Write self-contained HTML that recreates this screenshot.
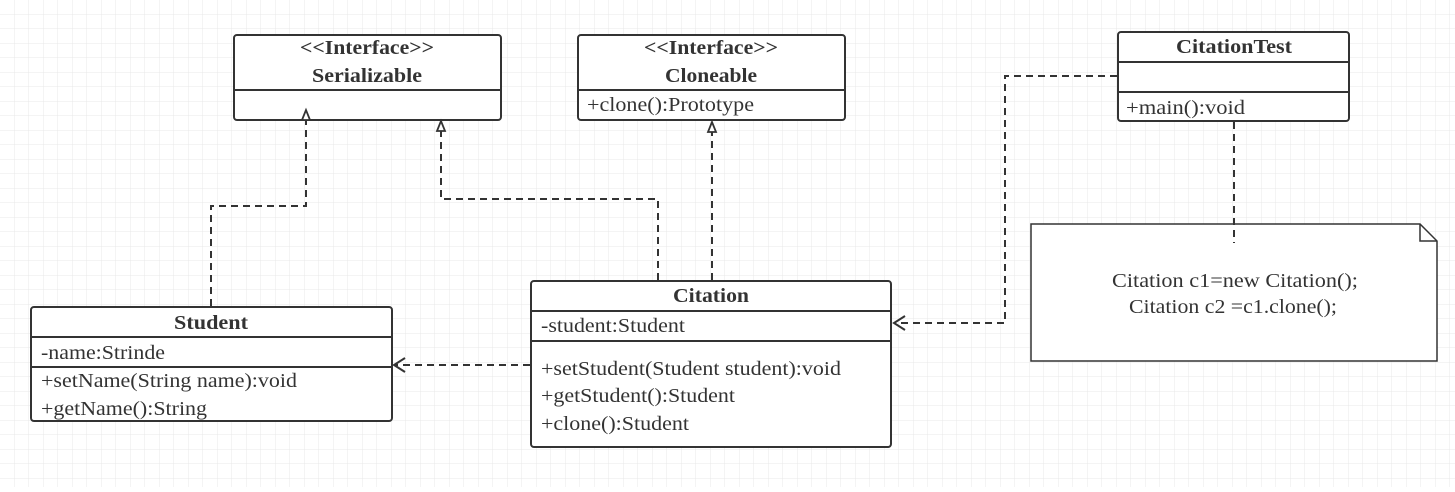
<!DOCTYPE html>
<html><head><style>
body{margin:0;background:#fff;}
text{font-family:"Liberation Serif","DejaVu Serif",serif;}
</style></head><body>
<svg width="1455" height="487" viewBox="0 0 1455 487" xmlns="http://www.w3.org/2000/svg">
<defs>
<pattern id="g" width="14.5" height="14.5" patternUnits="userSpaceOnUse">
<path d="M14.5 0V14.5H0" fill="none" stroke="#e9e9e9" stroke-width="1"/>
</pattern>
</defs>
<rect width="1455" height="487" fill="url(#g)"/>
<g fill="#fff" stroke="#333" stroke-width="2">
<rect x="234" y="35" width="267" height="85" rx="3"/>
<rect x="578" y="35" width="267" height="85" rx="3"/>
<rect x="1118" y="32" width="231" height="89" rx="3"/>
<rect x="31" y="307" width="361" height="114" rx="3"/>
<rect x="531" y="281" width="360" height="166" rx="3"/>
<path d="M1031 224H1420L1437 241V361H1031Z" fill="#fff" stroke-width="1.5"/>
<path d="M1420 224V241H1437" fill="none" stroke-width="1.5"/>
</g>
<g stroke="#333" stroke-width="2">
<line x1="234" y1="90" x2="501" y2="90"/>
<line x1="578" y1="90" x2="845" y2="90"/>
<line x1="1118" y1="62" x2="1349" y2="62"/>
<line x1="1118" y1="92" x2="1349" y2="92"/>
<line x1="31" y1="337" x2="392" y2="337"/>
<line x1="31" y1="367" x2="392" y2="367"/>
<line x1="531" y1="311" x2="891" y2="311"/>
<line x1="531" y1="341" x2="891" y2="341"/>
</g>
<g fill="none" stroke="#333" stroke-width="2" stroke-dasharray="7,5">
<path d="M211 306V206H306V118"/>
<path d="M658 280V199H441V120"/>
<path d="M712 280V122"/>
<path d="M1117 76H1005V323H895"/>
<path d="M1234 122V243"/>
<path d="M530 365H395"/>
</g>
<g fill="#fff" stroke="#333" stroke-width="1.8">
<path d="M306 110L302 120H310Z"/>
<path d="M441 121L437 131H445Z"/>
<path d="M712 122L708 132H716Z"/>
</g>
<g fill="none" stroke="#333" stroke-width="2">
<path d="M905 316L894 323L905 330"/>
<path d="M405 358L394 365L405 372"/>
</g>
<g fill="#333" font-size="20" font-family="'Liberation Serif', serif">
<g font-weight="bold" text-anchor="middle">
<text x="367" y="54" textLength="134" lengthAdjust="spacingAndGlyphs">&lt;&lt;Interface&gt;&gt;</text>
<text x="367" y="82" textLength="110" lengthAdjust="spacingAndGlyphs">Serializable</text>
<text x="711" y="54" textLength="134" lengthAdjust="spacingAndGlyphs">&lt;&lt;Interface&gt;&gt;</text>
<text x="711" y="82" textLength="92" lengthAdjust="spacingAndGlyphs">Cloneable</text>
<text x="1234" y="53" textLength="116" lengthAdjust="spacingAndGlyphs">CitationTest</text>
<text x="211" y="329" textLength="74" lengthAdjust="spacingAndGlyphs">Student</text>
<text x="711" y="302" textLength="76" lengthAdjust="spacingAndGlyphs">Citation</text>
</g>
<text x="587" y="111" textLength="167" lengthAdjust="spacingAndGlyphs">+clone():Prototype</text>
<text x="1126" y="114" textLength="119" lengthAdjust="spacingAndGlyphs">+main():void</text>
<text x="41" y="359" textLength="124" lengthAdjust="spacingAndGlyphs">-name:Strinde</text>
<text x="41" y="387" textLength="256" lengthAdjust="spacingAndGlyphs">+setName(String name):void</text>
<text x="41" y="415" textLength="166" lengthAdjust="spacingAndGlyphs">+getName():String</text>
<text x="541" y="332" textLength="144" lengthAdjust="spacingAndGlyphs">-student:Student</text>
<text x="541" y="375" textLength="300" lengthAdjust="spacingAndGlyphs">+setStudent(Student student):void</text>
<text x="541" y="402" textLength="194" lengthAdjust="spacingAndGlyphs">+getStudent():Student</text>
<text x="541" y="430" textLength="148" lengthAdjust="spacingAndGlyphs">+clone():Student</text>
<g text-anchor="middle">
<text x="1235" y="287" textLength="246" lengthAdjust="spacingAndGlyphs">Citation c1=new Citation();</text>
<text x="1233" y="313" textLength="208" lengthAdjust="spacingAndGlyphs">Citation c2 =c1.clone();</text>
</g>
</g>
</svg>
</body></html>
